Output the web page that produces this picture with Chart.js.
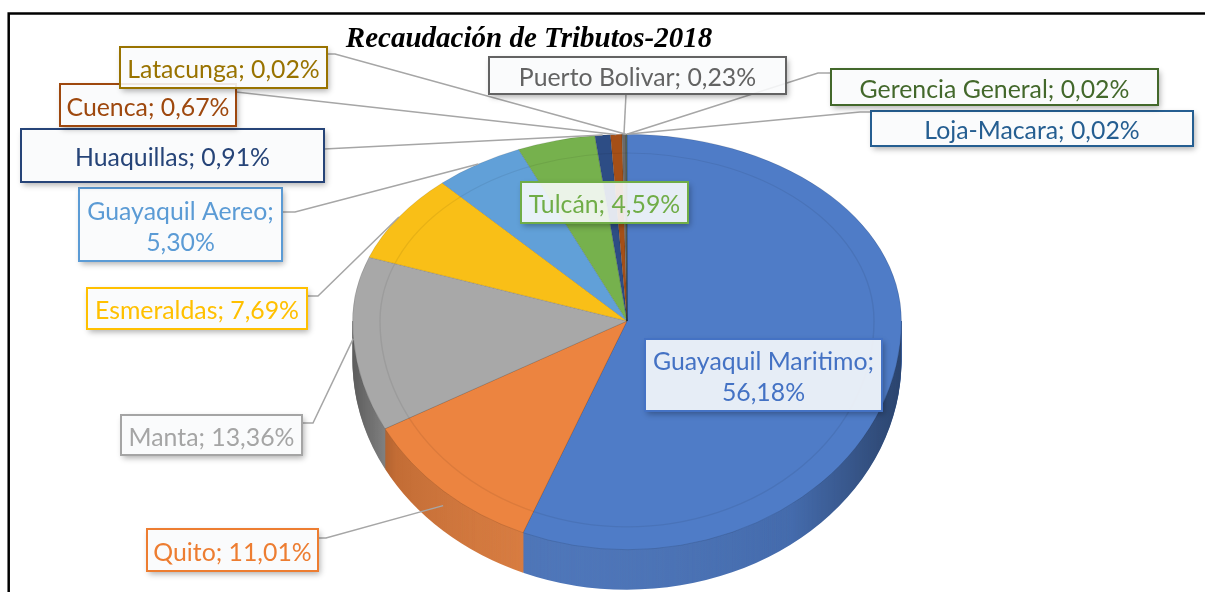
<!DOCTYPE html>
<html>
<head>
<meta charset="utf-8">
<title>Recaudación de Tributos-2018</title>
<script src="https://cdn.jsdelivr.net/npm/chart.js@4.4.0/dist/chart.umd.min.js"></script>
<style>
    html, body { margin: 0; padding: 0; background: #fff; }
    canvas { display: block; }
</style>
</head>
<body>
<canvas id="pie" width="1205" height="592"></canvas>
<script>
var categories = ["Guayaquil Maritimo", "Quito", "Manta", "Esmeraldas", "Guayaquil Aereo", "Tulcán",
                  "Huaquillas", "Cuenca", "Puerto Bolivar", "Latacunga", "Loja-Macara", "Gerencia General"];
var shares = [56.18, 11.01, 13.36, 7.69, 5.30, 4.59, 0.91, 0.67, 0.23, 0.02, 0.02, 0.02];

var sliceColors = ["#4F7CC7", "#EC8440", "#A8A8A8", "#F9BF17", "#61A0D8", "#76B14D",
                   "#2D4D85", "#A54F17", "#6A6A6A", "#A07B06", "#2A6399", "#4A7233"];
var textColors = ["#4472C4", "#ED7D31", "#A5A5A5", "#FFC000", "#5B9BD5", "#70AD47",
                  "#264478", "#9E480E", "#636363", "#997300", "#255E91", "#43682B"];

var chartTitle = "Recaudación de Tributos-2018";

// where each data label box sits (same order as categories), with leader anchor/elbow
var labelBoxes = [
    {x: 645, y: 339, w: 237, h: 72, wrap: true},
    {x: 147, y: 529, w: 171, h: 42, ax: 318, ay: 538, ex: 326},
    {x: 121, y: 415, w: 181, h: 40, ax: 302, ay: 423, ex: 313},
    {x: 87,  y: 288, w: 220, h: 41, ax: 307, ay: 296, ex: 318},
    {x: 79,  y: 188, w: 203, h: 73, ax: 282, ay: 212, ex: 295, wrap: true},
    {x: 521, y: 182, w: 167, h: 41},
    {x: 21,  y: 129, w: 303, h: 53, ax: 324, ay: 149},
    {x: 60,  y: 84,  w: 176, h: 42, ax: 236, ay: 92},
    {x: 489, y: 57,  w: 297, h: 37, ax: 626, ay: 94},
    {x: 120, y: 47,  w: 207, h: 41, ax: 327, ay: 54, ex: 335},
    {x: 871, y: 111, w: 322, h: 35, ax: 871, ay: 112, ex: 860},
    {x: 831, y: 69,  w: 327, h: 36, ax: 831, ay: 73, ex: 818}
];

// fake 3d look
var stretchX = 1.47;
var frontY = 1.225;
var depth = 40;

var labelFont = "Lato";
var labelSize = 25;
var refWidth = 195; // width of "Huaquillas; 0,91%" in the picture

function shade(hex, f){
    var n = parseInt(hex.slice(1), 16);
    var r = (n >> 16) & 255, g = (n >> 8) & 255, b = n & 255;
    return "rgb(" + Math.round(r * f) + "," + Math.round(g * f) + "," + Math.round(b * f) + ")";
}

function sector(ctx, a){
    ctx.beginPath();
    ctx.moveTo(a.x, a.y);
    ctx.arc(a.x, a.y, a.outerRadius, a.startAngle, a.endAngle);
    ctx.closePath();
}

var pie3d = {
    id: "pie3d",
    beforeDraw: function(chart){
        var ctx = chart.ctx;
        ctx.save();
        ctx.fillStyle = "#fff";
        ctx.fillRect(0, 0, chart.width, chart.height);
        // frame
        ctx.strokeStyle = "#000";
        ctx.lineWidth = 2.5;
        ctx.beginPath();
        ctx.moveTo(8.7, chart.height);
        ctx.lineTo(8.7, 13.5);
        ctx.lineTo(chart.width, 13.5);
        ctx.stroke();
        // title
        ctx.fillStyle = "#000";
        ctx.font = "italic bold 29px 'Liberation Serif'";
        ctx.textAlign = "center";
        ctx.textBaseline = "alphabetic";
        ctx.fillText(chartTitle, 529, 47);
        ctx.restore();
    },
    beforeDatasetsDraw: function(chart){
        var ctx = chart.ctx;
        var arcs = chart.getDatasetMeta(0).data;
        var cx = arcs[0].x, cy = arcs[0].y, R = arcs[0].outerRadius;
        var rx = R * stretchX, ry = R * frontY;

        // side wall
        ctx.save();
        ctx.beginPath();
        ctx.rect(0, cy, chart.width, chart.height - cy);
        ctx.clip();
        for(var d = depth; d >= 1; d--){
            arcs.forEach(function(a, i){
                ctx.save();
                ctx.translate(cx, cy + d);
                ctx.scale(stretchX, frontY);
                ctx.translate(-cx, -cy);
                sector(ctx, a);
                ctx.fillStyle = shade(sliceColors[i], 0.92);
                ctx.fill();
                ctx.restore();
            });
        }
        var g = ctx.createLinearGradient(cx - rx, 0, cx + rx, 0);
        g.addColorStop(0, "rgba(0,0,0,0.4)");
        g.addColorStop(0.08, "rgba(0,0,0,0.1)");
        g.addColorStop(0.4, "rgba(255,255,255,0.03)");
        g.addColorStop(0.8, "rgba(0,0,0,0.06)");
        g.addColorStop(1, "rgba(0,0,0,0.4)");
        ctx.beginPath();
        ctx.moveTo(cx + rx, cy);
        ctx.lineTo(cx + rx, cy + depth);
        ctx.ellipse(cx, cy + depth, rx, ry, 0, 0, Math.PI);
        ctx.lineTo(cx - rx, cy);
        ctx.closePath();
        ctx.fillStyle = g;
        ctx.fill();
        ctx.restore();

        // top face: back half and front half with their own depth scale
        [[0, cy + 1, 1], [cy, chart.height, frontY]].forEach(function(h){
            ctx.save();
            ctx.beginPath();
            ctx.rect(0, h[0], chart.width, h[1] - h[0]);
            ctx.clip();
            ctx.translate(cx, cy);
            ctx.scale(stretchX, h[2]);
            ctx.translate(-cx, -cy);
            arcs.forEach(function(a){ a.draw(ctx); });
            // bevel edge
            ctx.beginPath();
            ctx.arc(cx, cy, R * 0.9, 0, Math.PI * 2);
            ctx.lineWidth = 1;
            ctx.strokeStyle = "rgba(0,0,0,0.07)";
            ctx.stroke();
            ctx.restore();
        });
        return false;
    },
    afterDraw: function(chart){
        var ctx = chart.ctx;
        var arcs = chart.getDatasetMeta(0).data;

        ctx.save();
        ctx.font = labelSize + "px " + labelFont;
        var k = Math.min(1, refWidth / ctx.measureText("Huaquillas; 0,91%").width);

        // leader lines
        ctx.strokeStyle = "#A6A6A6";
        ctx.lineWidth = 1.5;
        labelBoxes.forEach(function(b, i){
            if(b.ax === undefined) return;
            var a = arcs[i];
            var mid = (a.startAngle + a.endAngle) / 2;
            var s = Math.sin(mid), c = Math.cos(mid);
            var tx = a.x + a.outerRadius * stretchX * c;
            var ty = s > 0 ? a.y + a.outerRadius * frontY * s + depth * 0.5 * s : a.y + a.outerRadius * s;
            ctx.beginPath();
            ctx.moveTo(b.ax, b.ay);
            if(b.ex !== undefined) ctx.lineTo(b.ex, b.ay);
            ctx.lineTo(tx, ty);
            ctx.stroke();
        });

        // label boxes
        labelBoxes.forEach(function(b, i){
            // soft shadow only outside the box
            ctx.save();
            ctx.beginPath();
            ctx.rect(0, 0, chart.width, chart.height);
            ctx.rect(b.x, b.y, b.w, b.h);
            ctx.clip("evenodd");
            ctx.shadowColor = "rgba(0,0,0,0.32)";
            ctx.shadowBlur = 6;
            ctx.shadowOffsetX = 2;
            ctx.shadowOffsetY = 3;
            ctx.fillStyle = "#fff";
            ctx.fillRect(b.x, b.y, b.w, b.h);
            ctx.restore();

            ctx.fillStyle = "rgba(249,250,252,0.89)";
            ctx.fillRect(b.x, b.y, b.w, b.h);
            ctx.lineWidth = 2;
            ctx.strokeStyle = textColors[i];
            ctx.strokeRect(b.x, b.y, b.w, b.h);

            var pct = shares[i].toFixed(2).replace(".", ",") + "%";
            var lines = b.wrap ? [categories[i] + ";", pct] : [categories[i] + "; " + pct];
            var mx = b.x + b.w / 2, my = b.y + b.h / 2 + 10.5;
            ctx.fillStyle = textColors[i];
            ctx.textAlign = "center";
            ctx.textBaseline = "alphabetic";
            lines.forEach(function(t, j){
                var y = lines.length === 2 ? my + (j === 0 ? -15.5 : 15.5) : my;
                ctx.save();
                ctx.translate(mx, y);
                ctx.scale(k, 1);
                ctx.fillText(t, 0, 0);
                ctx.restore();
            });
        });
        ctx.restore();
    }
};

new Chart(document.getElementById("pie"), {
    type: "pie",
    data: {
        labels: categories,
        datasets: [{
            data: shares,
            backgroundColor: sliceColors,
            borderWidth: 0.6,
            borderColor: "rgba(0,0,0,0.15)"
        }]
    },
    options: {
        responsive: false,
        animation: false,
        devicePixelRatio: 1,
        layout: {
            padding: {left: 352, right: 303, top: 134, bottom: 84}
        },
        plugins: {
            legend: {display: false},
            tooltip: {enabled: false},
            title: {display: false}
        }
    },
    plugins: [pie3d]
});
</script>
</body>
</html>
